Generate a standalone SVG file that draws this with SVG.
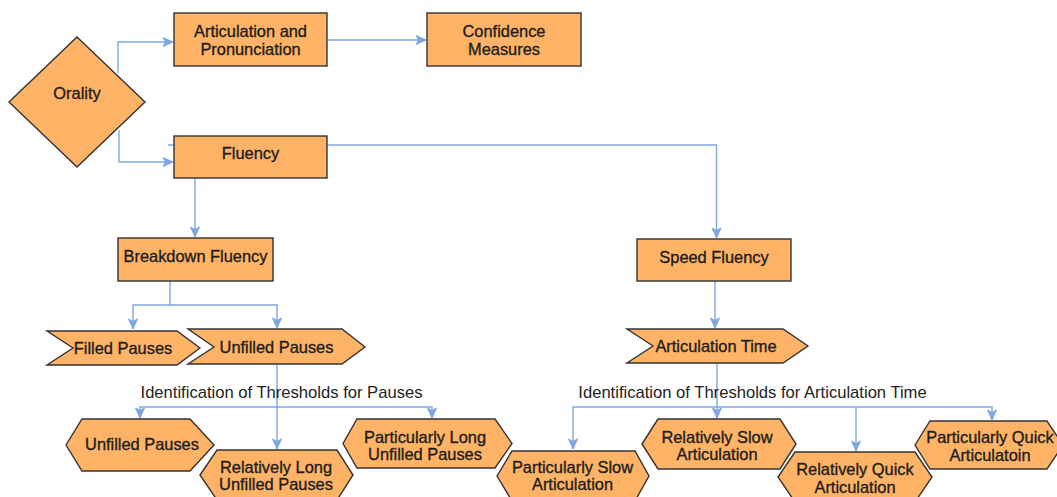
<svg xmlns="http://www.w3.org/2000/svg" width="1057" height="497" viewBox="0 0 1057 497">
<style>
.n{fill:#FFB366;stroke:#333333;stroke-width:1.4}
.t{font-family:"Liberation Sans",Arial,sans-serif;font-size:16.4px;fill:#1e1e1e;stroke:#1e1e1e;stroke-width:0.35;text-anchor:middle}
.l{font-family:"Liberation Sans",Arial,sans-serif;font-size:16.6px;fill:#222222;text-anchor:middle}
.c{fill:none;stroke:#7EA6E0;stroke-width:1.4}
</style>
<defs>
<marker id="a" markerUnits="userSpaceOnUse" markerWidth="12" markerHeight="12" viewBox="0 0 12 12" refX="11" refY="6" orient="auto">
<path d="M1,1.5 L11,6 L1,10.5 L3.5,6 Z" fill="#7EA6E0" stroke="#7EA6E0" stroke-width="1"/>
</marker>
</defs>
<rect width="1057" height="497" fill="#ffffff"/>
<g id="connectors">
<path class="c" d="M118,73 V42 H173" marker-end="url(#a)"/>
<path class="c" d="M119,130 V162 H173" marker-end="url(#a)"/>
<path class="c" d="M327,40 H426" marker-end="url(#a)"/>
<path class="c" d="M168,145 H716.5 V238" marker-end="url(#a)"/>
<path class="c" d="M195,178 V237" marker-end="url(#a)"/>
<path class="c" d="M170,281 V305 H133 V329" marker-end="url(#a)"/>
<path class="c" d="M170,305 H277 V328" marker-end="url(#a)"/>
<path class="c" d="M715,281 V328" marker-end="url(#a)"/>
<path class="c" d="M277,364 V449" marker-end="url(#a)"/>
<path class="c" d="M277,407 H140 V418" marker-end="url(#a)"/>
<path class="c" d="M277,407 H432 V418" marker-end="url(#a)"/>
<path class="c" d="M717,363 V418" marker-end="url(#a)"/>
<path class="c" d="M717,407 H573 V449" marker-end="url(#a)"/>
<path class="c" d="M717,407 H992 V420" marker-end="url(#a)"/>
<path class="c" d="M856,407 V451" marker-end="url(#a)"/>
<text class="l" x="281.5" y="398">Identification of Thresholds for Pauses</text>
<text class="l" x="752.5" y="398">Identification of Thresholds for Articulation Time</text>
</g>
<g id="orality">
<polygon class="n" points="77,37 145,102 77,167 9,102"/>
<text class="t" x="77" y="99">Orality</text>
</g>
<g id="articulation-pronunciation">
<rect class="n" x="174" y="13" width="153" height="53"/>
<text class="t" x="250.5" y="37">Articulation and</text>
<text class="t" x="250.5" y="55">Pronunciation</text>
</g>
<g id="confidence-measures">
<rect class="n" x="427" y="13" width="154" height="53"/>
<text class="t" x="504" y="37">Confidence</text>
<text class="t" x="504" y="55">Measures</text>
</g>
<g id="fluency">
<rect class="n" x="174" y="136" width="153" height="42"/>
<text class="t" x="250.5" y="159">Fluency</text>
</g>
<g id="breakdown-fluency">
<rect class="n" x="118" y="238" width="155" height="43"/>
<text class="t" x="195.5" y="262">Breakdown Fluency</text>
</g>
<g id="speed-fluency">
<rect class="n" x="637" y="239" width="154" height="42"/>
<text class="t" x="714" y="263">Speed Fluency</text>
</g>
<g id="filled-pauses">
<polygon class="n" points="47,331 177,331 200,348 177,365 47,365 73,348"/>
<text class="t" x="123" y="354">Filled Pauses</text>
</g>
<g id="unfilled-pauses">
<polygon class="n" points="188,329 342,329 365,347 342,364 188,364 214,347"/>
<text class="t" x="276.5" y="353">Unfilled Pauses</text>
</g>
<g id="articulation-time">
<polygon class="n" points="627,329 783,329 808,346 783,363 627,363 653,346"/>
<text class="t" x="716" y="352">Articulation Time</text>
</g>
<g id="unfilled-pauses-2">
<polygon class="n" points="66,445 82,419 190,419 214,445 190,471 82,471"/>
<text class="t" x="142" y="450">Unfilled Pauses</text>
</g>
<g id="relatively-long">
<polygon class="n" points="200,475 217,450 337,450 353,475 337,500 217,500"/>
<text class="t" x="276" y="473">Relatively Long</text>
<text class="t" x="276" y="490">Unfilled Pauses</text>
</g>
<g id="particularly-long">
<polygon class="n" points="343,443.5 357,419 495,419 512,443.5 495,468 357,468"/>
<text class="t" x="425" y="443">Particularly Long</text>
<text class="t" x="425" y="460">Unfilled Pauses</text>
</g>
<g id="particularly-slow">
<polygon class="n" points="497,476 512,451 635,451 649,476 635,501 512,501"/>
<text class="t" x="572.5" y="473">Particularly Slow</text>
<text class="t" x="572.5" y="490">Articulation</text>
</g>
<g id="relatively-slow">
<polygon class="n" points="642,444 658,419 780,419 796,444 780,469 658,469"/>
<text class="t" x="717" y="443">Relatively Slow</text>
<text class="t" x="717" y="460">Articulation</text>
</g>
<g id="relatively-quick">
<polygon class="n" points="778,477 795,452 915,452 932,477 915,502 795,502"/>
<text class="t" x="855" y="475">Relatively Quick</text>
<text class="t" x="855" y="493">Articulation</text>
</g>
<g id="particularly-quick">
<polygon class="n" points="915,445 930,421 1047,421 1063,445 1047,469 930,469"/>
<text class="t" x="990" y="443">Particularly Quick</text>
<text class="t" x="990" y="461">Articulatoin</text>
</g>
</svg>
